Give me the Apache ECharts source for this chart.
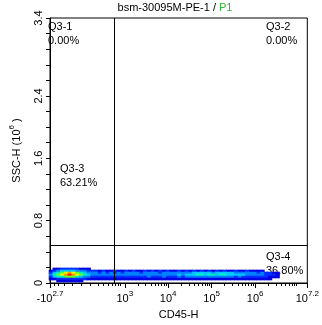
<!DOCTYPE html>
<html><head><meta charset="utf-8">
<script src="https://cdn.jsdelivr.net/npm/echarts@6/dist/echarts.min.js"></script>
<style>html,body{margin:0;padding:0;background:#fff}#c{width:322px;height:325px}</style>
</head><body><div id="c"></div>
<script>
// ---- scale (biexponential-like asinh transform for CD45-H) ----
const COFACTOR = 200;
const fwd = v => Math.asinh(v / COFACTOR);

// ---- axis extents / ticks ----
const xMinRaw = -Math.pow(10, 2.7);
const xMaxRaw = Math.pow(10, 7.2);
const yMin = 0, yMax = 3.4, yTickStep = 0.2;
const majorXTicks = [xMinRaw, 1e3, 1e4, 1e5, 1e6, xMaxRaw];
const majorXLabels = [['-10', '2.7'], ['10', '3'], ['10', '4'], ['10', '5'], ['10', '6'], ['10', '7.2']];
const linearMinorTicks = [-400, -300, -200, -100, 0, 100, 200, 300, 400, 500, 600, 700, 800];
const logMinorMultipliers = [2, 3, 4, 5, 6, 7, 8, 9];
const logMinorDecades = [1e3, 1e4, 1e5, 1e6, 1e7];
const yLabelValues = [0, 0.8, 1.6, 2.4, 3.4];

// ---- gates ----
const gateX = 560;      // CD45-H
const gateY = 0.49;     // SSC-H (10^6)
const quadNames = ['Q3-1', 'Q3-2', 'Q3-3', 'Q3-4'];
const quadPct = ['0.00%', '0.00%', '63.21%', '36.80%'];

// ---- density cloud (levels 0-9), rows top->bottom, columns on display grid ----
const cloudRowSSC = [0.180, 0.154, 0.128, 0.103, 0.077, 0.051, 0.026];
const cloudColStart = -1.6, cloudColStep = 0.2;   // display (asinh) units
const cloudRows = [
  "0112222211100" + "0000000000000000000000000000000000000000000000000",
  "1234444333222" + "1211211212112121212112121212121212112112111100000",
  "2456787654333" + "2323232333323333233333333444443444443333332322110",
  "3567898765433" + "3333333333333333333334344455455455444443333322210",
  "2455666543322" + "2222222222222322232223233333333333332322222221110",
  "1122222222111" + "1111111111111111111111111111111111111111111111000",
  "0011111110000" + "0000000000000000000000000000000000000000000000000"
];
const densityColors = [null, '#0000e0', '#0030ff', '#0080ff', '#00c8ff', '#00f0c0', '#60ff30', '#e8ff00', '#ff9800', '#ff1800'];

const FONT = '"Liberation Sans", Arial, sans-serif';

const minorXTicks = linearMinorTicks.slice();
logMinorDecades.forEach(d => logMinorMultipliers.forEach(m => { const v = m * d; if (v < xMaxRaw) minorXTicks.push(v); }));

const cloudData = [];
cloudRows.forEach((row, r) => {
  for (let i = 0; i < row.length; i++) {
    const lv = +row[i];
    if (lv > 0) cloudData.push([cloudColStart + i * cloudColStep, cloudRowSSC[r], lv]);
  }
});

const chart = echarts.init(document.getElementById('c'));
const xmin = fwd(xMinRaw), xmax = fwd(xMaxRaw);
chart.setOption({
  animation: false,
  grid: { left: 43, right: 14, top: 18, bottom: 42, show: true, borderColor: '#000', borderWidth: 1 },
  xAxis: [{
    type: 'value', min: xmin, max: xmax, position: 'bottom',
    axisLine: { show: true, onZero: false, lineStyle: { color: '#000', width: 1 } },
    splitLine: { show: false },
    axisTick: { show: true, customValues: majorXTicks.map(fwd), length: 5, lineStyle: { color: '#000' } },
    axisLabel: {
      customValues: majorXTicks.map(fwd), margin: 7,
      formatter: v => {
        const i = majorXTicks.findIndex(t => Math.abs(fwd(t) - v) < 1e-6);
        if (i < 0) return '';
        return '{b|' + majorXLabels[i][0] + '}{s|' + majorXLabels[i][1] + '}';
      },
      rich: {
        b: { fontSize: 11, fontFamily: FONT, color: '#000', lineHeight: 14, verticalAlign: 'bottom' },
        s: { fontSize: 8, fontFamily: FONT, color: '#000', lineHeight: 14, verticalAlign: 'top' }
      }
    },
    name: 'CD45-H', nameLocation: 'middle', nameGap: 26,
    nameTextStyle: { fontSize: 11, fontFamily: FONT, color: '#000' }
  }, {
    type: 'value', min: xmin, max: xmax, position: 'bottom',
    axisLine: { show: false, onZero: false }, splitLine: { show: false },
    axisTick: { show: true, customValues: minorXTicks.map(fwd), length: 3, lineStyle: { color: '#000' } },
    axisLabel: { show: false }
  }],
  yAxis: {
    type: 'value', min: yMin, max: yMax, interval: yTickStep,
    axisLine: { show: true, onZero: false, lineStyle: { color: '#000' } },
    splitLine: { show: false },
    axisTick: { show: true, length: 4, lineStyle: { color: '#000' } },
    axisLabel: {
      customValues: yLabelValues, rotate: 90, margin: 6,
      formatter: v => String(+(+v).toFixed(1)),
      fontSize: 11, fontFamily: FONT, color: '#000'
    },
    name: '{a|SSC-H (10}{s|6}{a| )}', nameLocation: 'middle', nameRotate: 90, nameGap: 28,
    nameTextStyle: {
      rich: {
        a: { fontSize: 11, fontFamily: FONT, color: '#000', lineHeight: 14, verticalAlign: 'bottom' },
        s: { fontSize: 8, fontFamily: FONT, color: '#000', lineHeight: 14, verticalAlign: 'top' }
      }
    }
  },
  series: [{
    type: 'scatter', xAxisIndex: 0, yAxisIndex: 0,
    data: cloudData, symbol: 'rect', symbolSize: [4.4, 2.6],
    itemStyle: { color: p => densityColors[p.data[2]], opacity: 1 },
    silent: true,
    markLine: {
      silent: true, symbol: 'none', label: { show: false },
      lineStyle: { color: '#000', width: 1, type: 'solid' },
      data: [
        [{ coord: [fwd(gateX), yMin] }, { coord: [fwd(gateX), yMax] }],
        [{ coord: [xmin, gateY] }, { coord: [xmax, gateY] }]
      ]
    }
  }],
  graphic: [
    { type: 'text', x: 175, y: 2, style: { text: '{a|bsm-30095M-PE-1 / }{g|P1}', align: 'center',
      rich: { a: { fontSize: 11, fontFamily: FONT, fill: '#000' }, g: { fontSize: 11, fontFamily: FONT, fill: '#33bb33' } } } },
    { type: 'text', x: 48, y: 20, style: { text: quadNames[0] + '\n' + quadPct[0], fontSize: 11, fontFamily: FONT, fill: '#000', lineHeight: 14 } },
    { type: 'text', x: 266, y: 20, style: { text: quadNames[1] + '\n' + quadPct[1], fontSize: 11, fontFamily: FONT, fill: '#000', lineHeight: 14 } },
    { type: 'text', x: 60, y: 162, style: { text: quadNames[2] + '\n' + quadPct[2], fontSize: 11, fontFamily: FONT, fill: '#000', lineHeight: 14 } },
    { type: 'text', x: 266, y: 250, style: { text: quadNames[3] + '\n' + quadPct[3], fontSize: 11, fontFamily: FONT, fill: '#000', lineHeight: 14 } }
  ]
});
</script>
</body></html>
